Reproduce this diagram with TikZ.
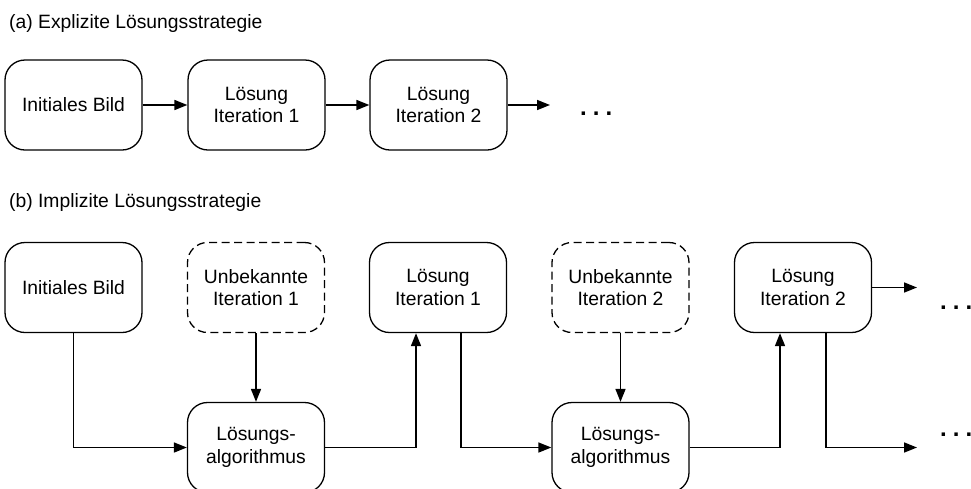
\documentclass[tikz,border=0pt]{standalone}
\usepackage{fontspec}
\setmainfont{Liberation Sans}
\usetikzlibrary{arrows.meta}
\begin{document}
\begin{tikzpicture}[x=1pt,y=-1pt,
  every node/.style={font=\fontsize{19.3}{22.7}\selectfont},
  box/.style={draw=black, line width=1.3pt, rounded corners=20pt,
    minimum width=137pt, minimum height=90pt, align=center, inner sep=0pt},
  unknownbox/.style={box, dashed, dash pattern=on 8pt off 4.5pt},
  conn/.style={line width=1.6pt, -{Triangle[length=13pt,width=10pt]}},
  more/.style={anchor=base west, inner sep=0pt, font=\fontsize{24}{28}\bfseries}
]
\clip (0,0) rectangle (971,488);
\fill[white] (0,0) rectangle (971,488);

% (a) explicit scheme
\node[anchor=base west, inner sep=0pt] (ta) at (9,28) {(a) Explizite Lösungsstrategie};
\node[box] (a1) at (73.5,105) {Initiales Bild};
\node[box] (a2) at (256.5,105) {Lösung\\Iteration 1};
\node[box] (a3) at (438.5,105) {Lösung\\Iteration 2};
\coordinate (a4) at (550,105);
\node[more] (adots) at (580,115) {.\kern6pt.\kern6pt.};
\draw[conn] (a1) -- (a2);
\draw[conn] (a2) -- (a3);
\draw[conn] (a3) -- (a4);

% (b) implicit scheme
\node[anchor=base west, inner sep=0pt] (tb) at (9,207) {(b) Implizite Lösungsstrategie};
\node[box] (b0) at (73.5,287.5) {Initiales Bild};
\node[unknownbox] (u1) at (256,287.5) {Unbekannte\\Iteration 1};
\node[box] (l1) at (438,287.5) {Lösung\\Iteration 1};
\node[unknownbox] (u2) at (620.5,287.5) {Unbekannte\\Iteration 2};
\node[box] (l2) at (803,287.5) {Lösung\\Iteration 2};
\node[box] (s1) at (256,447.5) {Lösungs-\\algorithmus};
\node[box] (s2) at (620.5,447.5) {Lösungs-\\algorithmus};
\coordinate (r1) at (917,287.5);
\coordinate (r2) at (917,447.5);
\node[more] (bdots1) at (940,309) {.\kern6pt.\kern6pt.};
\node[more] (bdots2) at (940,436) {.\kern6pt.\kern6pt.};

\draw[conn] (b0.south) |- (s1.west);
\draw[conn] (u1) -- (s1);
\draw[conn] (s1.east) -| ([xshift=-22pt]l1.south);
\draw[conn] ([xshift=23pt]l1.south) |- (s2.west);
\draw[conn] (u2) -- (s2);
\draw[conn] (s2.east) -| ([xshift=-23pt]l2.south);
\draw[conn] ([xshift=23pt]l2.south) |- (r2);
\draw[conn] (l2.east) -- (r1);
\end{tikzpicture}
\end{document}
